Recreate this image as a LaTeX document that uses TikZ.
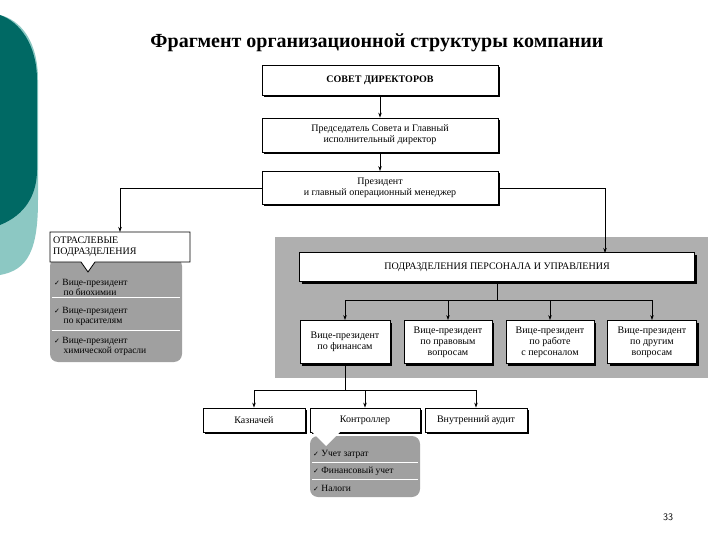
\documentclass[tikz,border=0pt]{standalone}
\usepackage{fontspec}
\setmainfont{Liberation Serif}
\newfontfamily\symf{DejaVu Sans}
\usetikzlibrary{arrows.meta,shadows}
\definecolor{tealdark}{RGB}{0,105,100}
\definecolor{teallight}{RGB}{140,200,195}
\definecolor{panel}{RGB}{175,175,175}
\definecolor{listgray}{RGB}{160,160,160}
\newcommand{\ck}{{\symf\fontsize{7}{8}\selectfont ✓}}
\tikzset{
  x=1pt,y=-1pt,
  bx/.style={draw=black,fill=white,line width=0.8pt,align=center,font=\fontsize{10}{11}\selectfont,inner sep=1pt,
     drop shadow={shadow xshift=2pt,shadow yshift=-2pt,fill=black,opacity=1}},
  ln/.style={line width=0.7pt},
  ar/.style={ln,-{Stealth[length=5pt,width=3.5pt]}},
  li/.style={font=\fontsize{9.5}{10}\selectfont,align=left,anchor=west,inner sep=1pt}
}
\begin{document}
\begin{tikzpicture}
\useasboundingbox (0,0) rectangle (720,540);
% decoration
\fill[teallight] (0,15) -- (0,275) .. controls (28,270) and (38,250) .. (38,200) -- (38,80) .. controls (38,40) and (20,20) .. (0,15) -- cycle;
\fill[tealdark] (0,15) -- (0,225) .. controls (25,215) and (37,195) .. (37,170) -- (37,80) .. controls (37,45) and (20,22) .. (0,15) -- cycle;
\node (title) at (377,43) {\fontsize{20}{24}\selectfont\bfseries Фрагмент организационной структуры компании};
% top chain
\node[bx,minimum width=236,minimum height=30] (sd) at (380,80) {\bfseries СОВЕТ ДИРЕКТОРОВ};
\node[bx,minimum width=236,minimum height=34] (pr) at (380,135) {Председатель Совета и Главный\\исполнительный директор};
\node[bx,minimum width=236,minimum height=33] (pz) at (380,188) {Президент\\и главный операционный менеджер};
\draw[ar] (sd) -- (pr);
\draw[ar] (pr) -- (pz);
% gray panel
\fill[panel] (275,237) rectangle (708,378);
\node[bx,minimum width=395,minimum height=29] (pd) at (497,267) {ПОДРАЗДЕЛЕНИЯ ПЕРСОНАЛА И УПРАВЛЕНИЯ};
\coordinate (pt) at (605,253);
\draw[ar] (pz.east) -| (pt);
% left group
\fill[listgray,rounded corners=8pt] (50,258) rectangle (182,362);
\draw[white,line width=0.8pt] (52,297) -- (180,297) (52,330) -- (180,330);
\draw[fill=white,line width=0.8pt] (50,232) -- (190,232) -- (190,262) -- (95,262) -- (88,272) -- (81,262) -- (50,262) -- cycle;
\node[li,font=\fontsize{10}{11}\selectfont] (ot) at (52,247) {ОТРАСЛЕВЫЕ\\ПОДРАЗДЕЛЕНИЯ};
\draw[ar] (pz.west) -| (120,232);
\node[li] (l1) at (53,287) {\ck\ Вице-президент\\\hspace*{1em}по биохимии};
\node[li] (l2) at (53,316) {\ck\ Вице-президент\\\hspace*{1em}по красителям};
\node[li] (l3) at (53,346) {\ck\ Вице-президент\\\hspace*{1em}химической отрасли};
% VPs
\node[bx,minimum width=90,minimum height=43] (v1) at (345,342) {Вице-президент\\по финансам};
\node[bx,minimum width=88,minimum height=43] (v2) at (448,342) {Вице-президент\\по правовым\\вопросам};
\node[bx,minimum width=88,minimum height=43] (v3) at (550,342) {Вице-президент\\по работе\\с персоналом};
\node[bx,minimum width=89,minimum height=43] (v4) at (652,342) {Вице-президент\\по другим\\вопросам};
\coordinate (j1) at (497,300);
\draw[ln] (pd.south) -- (j1);
\draw[ln] (v1.north|-j1) -- (v4.north|-j1);
\foreach \v in {v1,v2,v3,v4} \draw[ar] (\v.north|-j1) -- (\v.north);
% bottom
\node[bx,minimum width=102,minimum height=24] (k) at (254,420) {Казначей};
\node[bx,minimum width=110,minimum height=24] (c) at (365,420) {Контроллер};
\node[bx,minimum width=102,minimum height=24] (a) at (476,420) {Внутренний аудит};
\coordinate (j2) at (345,390);
\draw[ln] (v1.south) -- (j2);
\draw[ln] (k.north|-j2) -- (a.north|-j2);
\foreach \v in {k,c,a} \draw[ar] (\v.north|-j2) -- (\v.north);
\fill[listgray,rounded corners=8pt] (310,436) rectangle (420,497);
\fill[white] (312,432) -- (340,432) -- (326,446) -- cycle;
\draw[white,line width=0.8pt] (312,462) -- (418,462) (312,479) -- (418,479);
\node[li] (c1) at (312,454) {\ck\ Учет затрат};
\node[li] (c2) at (312,471) {\ck\ Финансовый учет};
\node[li] (c3) at (312,488) {\ck\ Налоги};
\node[font=\sffamily\fontsize{10}{12}\selectfont] (num) at (668,517) {33};
\end{tikzpicture}
\end{document}
